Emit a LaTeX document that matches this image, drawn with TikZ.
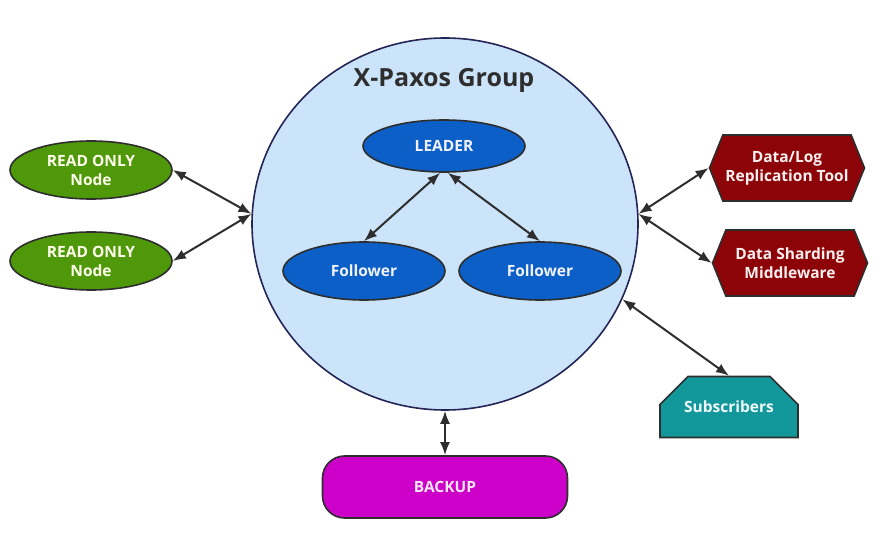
\documentclass[tikz,border=0pt]{standalone}
\usepackage{fontspec}
\setmainfont{Open Sans}
\usepackage{xcolor}
\usetikzlibrary{arrows.meta, shapes.geometric, shapes.symbols, shapes.misc}
\definecolor{linegray}{HTML}{2E2E2E}
\definecolor{groupblue}{HTML}{CCE4FA}
\definecolor{roleblue}{HTML}{0B5FC6}
\definecolor{readgreen}{HTML}{4E980A}
\definecolor{tooldred}{HTML}{8C0407}
\definecolor{subteal}{HTML}{12979A}
\definecolor{backpink}{HTML}{CC00C8}

\begin{document}
\begin{tikzpicture}[x=1pt, y=-1pt,
  every node/.style={font=\bfseries\fontsize{15.5}{19}\selectfont, align=center},
  oval/.style={ellipse, draw=linegray, line width=1.6pt, inner sep=0pt,
    minimum width=162pt, minimum height=58pt},
  role/.style={oval, fill=roleblue, text=blue!5},
  readonly/.style={oval, fill=readgreen, text=green!5!yellow!8},
  tool/.style={signal, signal to=west and east, signal pointer angle=136,
    draw=linegray, line width=1.6pt, fill=tooldred, text=red!6,
    minimum width=155pt, minimum height=66pt, inner sep=0pt},
  link/.style={{Latex[length=13pt,width=10pt]}-{Latex[length=13pt,width=10pt]},
    draw=linegray, line width=2pt}]
\useasboundingbox (0,0) rectangle (884,537);

\node[ellipse, draw=linegray!80!blue, line width=1.6pt, fill=groupblue,
  minimum width=386pt, minimum height=372pt] (group) at (445,224) {};
\node[font=\bfseries\fontsize{25}{28}\selectfont, text=linegray] (title) at (444,80) {X-Paxos Group};

\node[role, minimum height=52pt] (leader) at (444,146) {LEADER};
\node[role] (followerA) at (364,271) {Follower};
\node[role] (followerB) at (540,271) {Follower};

\node[readonly] (readA) at (91,170) {READ ONLY\\Node};
\node[readonly] (readB) at (91,261) {READ ONLY\\Node};

\node[tool] (logtool) at (787,168) {Data/Log\\Replication Tool};
\node[tool] (sharding) at (790,263) {Data Sharding\\Middleware};

\node[chamfered rectangle, chamfered rectangle corners={north east, north west},
  chamfered rectangle xsep=22pt, chamfered rectangle ysep=22pt,
  draw=linegray, line width=1.6pt, fill=subteal, text=white!95!cyan,
  minimum width=138pt, minimum height=61pt, inner sep=0pt] (subs) at (729,407) {Subscribers};

\node[rectangle, rounded corners=22pt, draw=linegray, line width=1.6pt, fill=backpink,
  text=magenta!10, minimum width=245pt, minimum height=62pt, inner sep=0pt]
  (backup) at (445,487) {BACKUP};

\draw[link] (leader.262) -- (followerA.north);
\draw[link] (leader.278) -- (followerB.north);
\draw[link] (readA.east) -- (group.177);
\draw[link] (readB.east) -- (group.177);
\draw[link] (logtool.west) -- (group.3);
\draw[link] (sharding.west) -- (group.3);
\draw[link] (subs.north) -- (group.-23);
\draw[link] (group.south) -- (backup.north);
\end{tikzpicture}
\end{document}
